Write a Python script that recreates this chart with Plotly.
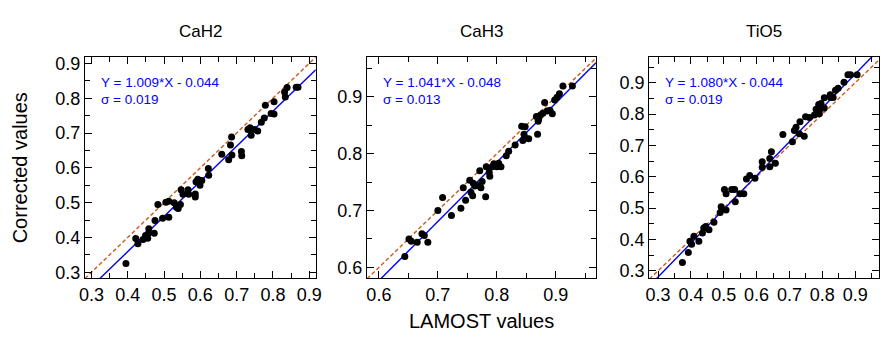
import plotly.graph_objects as go

# ---------------- data ----------------
titles = ["CaH2", "CaH3", "TiO5"]
slopes = [1.009, 1.041, 1.080]
intercepts = [-0.044, -0.048, -0.044]
sigmas = [0.019, 0.013, 0.019]

cah2_x = [0.395, 0.422, 0.428, 0.442, 0.449, 0.455, 0.457, 0.458, 0.473, 0.475, 0.483, 0.496,
          0.505, 0.513, 0.513, 0.528, 0.534, 0.539, 0.545, 0.547, 0.552, 0.566, 0.568, 0.586,
          0.586, 0.588, 0.593, 0.599, 0.604, 0.622, 0.623, 0.659, 0.678, 0.683, 0.686, 0.687,
          0.713, 0.714, 0.731, 0.737, 0.740, 0.749, 0.758, 0.768, 0.776, 0.779, 0.795, 0.803,
          0.803, 0.832, 0.834, 0.839, 0.864, 0.869]
cah2_y = [0.325, 0.397, 0.382, 0.394, 0.406, 0.398, 0.412, 0.425, 0.412, 0.449, 0.495, 0.455,
          0.501, 0.504, 0.458, 0.500, 0.487, 0.483, 0.495, 0.537, 0.524, 0.537, 0.524, 0.525,
          0.516, 0.560, 0.567, 0.550, 0.564, 0.598, 0.579, 0.639, 0.623, 0.666, 0.689, 0.637,
          0.647, 0.635, 0.710, 0.715, 0.694, 0.710, 0.706, 0.731, 0.743, 0.780, 0.756, 0.755,
          0.790, 0.818, 0.804, 0.831, 0.832, 0.832]

cah3_x = [0.644, 0.651, 0.655, 0.665, 0.673, 0.677, 0.683, 0.700, 0.708, 0.723, 0.739, 0.743,
          0.747, 0.754, 0.756, 0.759, 0.760, 0.763, 0.767, 0.771, 0.773, 0.775, 0.781, 0.782,
          0.787, 0.788, 0.792, 0.795, 0.800, 0.803, 0.807, 0.816, 0.820, 0.831, 0.842, 0.844,
          0.846, 0.848, 0.849, 0.854, 0.869, 0.867, 0.870, 0.871, 0.874, 0.878, 0.881, 0.885,
          0.890, 0.894, 0.898, 0.902, 0.906, 0.912, 0.928]
cah3_y = [0.619, 0.650, 0.646, 0.644, 0.659, 0.656, 0.644, 0.700, 0.723, 0.691, 0.704, 0.740,
          0.718, 0.753, 0.732, 0.726, 0.748, 0.743, 0.744, 0.770, 0.740, 0.751, 0.724, 0.777,
          0.767, 0.760, 0.777, 0.782, 0.777, 0.783, 0.777, 0.796, 0.804, 0.815, 0.848, 0.823,
          0.834, 0.847, 0.827, 0.826, 0.834, 0.865, 0.857, 0.861, 0.868, 0.871, 0.890, 0.875,
          0.876, 0.870, 0.894, 0.899, 0.905, 0.919, 0.919]

tio5_x = [0.374, 0.392, 0.397, 0.402, 0.409, 0.424, 0.435, 0.439, 0.445, 0.455, 0.470, 0.489,
          0.492, 0.502, 0.507, 0.507, 0.524, 0.533, 0.535, 0.549, 0.561, 0.569, 0.579, 0.595,
          0.617, 0.617, 0.640, 0.640, 0.645, 0.657, 0.680, 0.709, 0.715, 0.720, 0.730, 0.732,
          0.745, 0.749, 0.761, 0.776, 0.781, 0.789, 0.791, 0.796, 0.796, 0.806, 0.806, 0.824,
          0.825, 0.833, 0.840, 0.848, 0.866, 0.878, 0.886, 0.906]
tio5_y = [0.326, 0.358, 0.394, 0.384, 0.410, 0.394, 0.420, 0.436, 0.441, 0.431, 0.455, 0.486,
          0.504, 0.559, 0.546, 0.494, 0.559, 0.559, 0.520, 0.546, 0.546, 0.593, 0.604, 0.595,
          0.630, 0.648, 0.632, 0.658, 0.680, 0.643, 0.735, 0.712, 0.748, 0.758, 0.737, 0.776,
          0.729, 0.792, 0.789, 0.797, 0.816, 0.831, 0.801, 0.834, 0.818, 0.820, 0.852, 0.862,
          0.853, 0.853, 0.876, 0.883, 0.902, 0.926, 0.926, 0.926]

xs = [cah2_x, cah3_x, tio5_x]
ys = [cah2_y, cah3_y, tio5_y]

x_ranges = [[0.282, 0.918], [0.580, 0.968], [0.273, 0.973]]
y_ranges = [[0.283, 0.919], [0.581, 0.970], [0.276, 0.983]]

# ---------------- layout geometry ----------------
W, H = 894, 338
x_dom_px = [(80, 314), (366, 598), (652, 885)]
y_top_px, y_bot_px = 55, 281
y_dom = [(H - y_bot_px) / H, (H - y_top_px) / H]

FONT = "Liberation Sans, Arial, sans-serif"
BLUE = "#0000ff"
ORANGE = "#cc5a1e"

fig = go.Figure()
annotations = []

for i in range(3):
    suf = "" if i == 0 else str(i + 1)
    xa, ya = "x" + suf, "y" + suf
    x0, x1 = x_ranges[i]
    # 1:1 line
    fig.add_trace(go.Scatter(x=[x0, x1], y=[x0, x1], mode="lines",
                             line=dict(color=ORANGE, width=1.4, dash="4px,2.5px"),
                             xaxis=xa, yaxis=ya, showlegend=False, hoverinfo="skip"))
    # fit line
    fig.add_trace(go.Scatter(x=[x0, x1],
                             y=[slopes[i] * x0 + intercepts[i], slopes[i] * x1 + intercepts[i]],
                             mode="lines", line=dict(color=BLUE, width=1.4),
                             xaxis=xa, yaxis=ya, showlegend=False, hoverinfo="skip"))
    # points
    fig.add_trace(go.Scatter(x=xs[i], y=ys[i], mode="markers",
                             marker=dict(color="black", size=7, line=dict(width=0)),
                             xaxis=xa, yaxis=ya, showlegend=False))

    dom = [x_dom_px[i][0] / W, x_dom_px[i][1] / W]
    axis_common = dict(
        showgrid=False, zeroline=False, showline=True, linecolor="black", linewidth=1.3,
        mirror="allticks", ticks="inside", ticklen=7, tickwidth=1, tickcolor="black",
        dtick=0.1, tick0=0, tickformat=".1f",
        tickfont=dict(family=FONT, size=18, color="black"),
        minor=dict(ticks="inside", ticklen=5, tickwidth=1, tickcolor="black", dtick=0.05, tick0=0),
    )
    fig.layout["xaxis" + suf] = dict(axis_common, domain=dom, range=x_ranges[i],
                                     anchor="y" + suf)
    fig.layout["yaxis" + suf] = dict(axis_common, domain=y_dom, range=y_ranges[i],
                                     anchor="x" + suf)

    # panel title
    annotations.append(dict(text=titles[i], xref="paper", yref="paper",
                            x=sum(dom) / 2, y=(H - 29) / H, xanchor="center", yanchor="middle",
                            showarrow=False, font=dict(family=FONT, size=17, color="black")))
    # fit text
    annotations.append(dict(text=f"Y = {slopes[i]:.3f}*X - {abs(intercepts[i]):.3f}",
                            xref="paper", yref="paper",
                            x=(x_dom_px[i][0] + 14) / W, y=(H - 81) / H,
                            xanchor="left", yanchor="middle", showarrow=False,
                            font=dict(family=FONT, size=13.5, color=BLUE)))
    annotations.append(dict(text=f"σ = {sigmas[i]:.3f}",
                            xref="paper", yref="paper",
                            x=(x_dom_px[i][0] + 14) / W, y=(H - 99) / H,
                            xanchor="left", yanchor="middle", showarrow=False,
                            font=dict(family=FONT, size=13.5, color=BLUE)))

annotations.append(dict(text="Corrected values", xref="paper", yref="paper",
                        x=14 / W, y=(H - 168) / H, xanchor="center", yanchor="middle",
                        textangle=-90, showarrow=False,
                        font=dict(family=FONT, size=20, color="black")))
annotations.append(dict(text="LAMOST values", xref="paper", yref="paper",
                        x=482 / W, y=(H - 325) / H, xanchor="center", yanchor="middle",
                        showarrow=False, font=dict(family=FONT, size=20, color="black")))

fig.update_layout(width=W, height=H, margin=dict(l=0, r=0, t=0, b=0),
                  paper_bgcolor="white", plot_bgcolor="white",
                  annotations=annotations)

fig.write_html("out.html", config={"displayModeBar": False},
               post_script="document.body.style.margin='0';document.body.style.padding='0';")
